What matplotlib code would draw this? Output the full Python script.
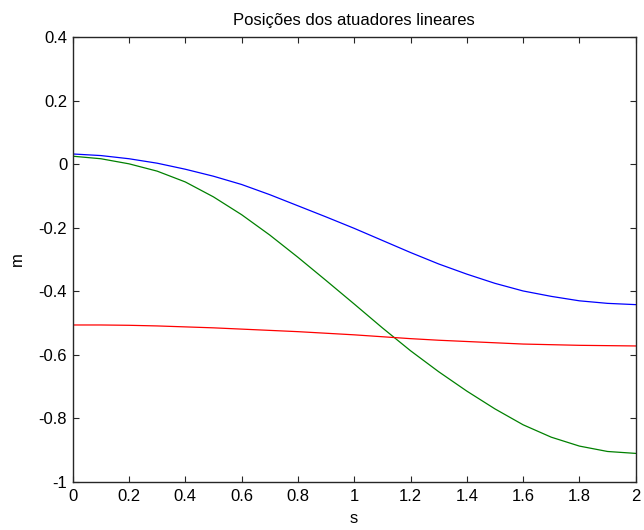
import numpy as np
import matplotlib
matplotlib.use('Agg')
import matplotlib.pyplot as plt

# time samples (s) and actuator positions (m)
t = [0.0, 0.1, 0.2, 0.3, 0.4, 0.5, 0.6, 0.7, 0.8, 0.9, 1.0,
     1.1, 1.2, 1.3, 1.4, 1.5, 1.6, 1.7, 1.8, 1.9, 2.0]

atuador1 = [0.032, 0.027, 0.017, 0.003, -0.016, -0.038, -0.064, -0.096, -0.131, -0.166, -0.202,
            -0.240, -0.278, -0.314, -0.346, -0.375, -0.399, -0.416, -0.430, -0.438, -0.442]

atuador2 = [0.025, 0.017, 0.001, -0.022, -0.056, -0.103, -0.159, -0.223, -0.293, -0.366, -0.440,
            -0.515, -0.587, -0.653, -0.714, -0.770, -0.820, -0.859, -0.887, -0.904, -0.910]

atuador3 = [-0.506, -0.506, -0.507, -0.509, -0.512, -0.515, -0.519, -0.523, -0.527, -0.532, -0.537,
            -0.543, -0.549, -0.554, -0.558, -0.562, -0.566, -0.568, -0.570, -0.571, -0.572]

xticks = [0, 0.2, 0.4, 0.6, 0.8, 1, 1.2, 1.4, 1.6, 1.8, 2]
yticks = [-1, -0.8, -0.6, -0.4, -0.2, 0, 0.2, 0.4]


def main():
    plt.rcParams['font.family'] = ['Liberation Sans', 'DejaVu Sans']
    plt.rcParams['font.size'] = 12

    fig = plt.figure(figsize=(6.44, 5.30), dpi=100)
    ax = fig.add_axes([72.7 / 644, 48 / 530, 563 / 644, 445 / 530])

    ax.plot(t, atuador1, color=(0, 0, 1), lw=0.9)
    ax.plot(t, atuador2, color=(0, 0.5, 0), lw=0.9)
    ax.plot(t, atuador3, color=(1, 0, 0), lw=0.9)

    ax.set_xlim(0, 2)
    ax.set_ylim(-1, 0.4)
    ax.set_xticks(xticks)
    ax.set_yticks(yticks)
    ax.set_xticklabels(['%g' % v for v in xticks])
    ax.set_yticklabels(['%g' % v for v in yticks])

    ax.tick_params(direction='in', top=True, right=True, length=4, width=0.8,
                   color='#262626', labelcolor='black')
    ax.tick_params(axis='x', pad=5)
    ax.tick_params(axis='y', pad=4)
    for sp in ax.spines.values():
        sp.set_color('#262626')
        sp.set_linewidth(1.0)

    ax.set_title('Posições dos atuadores lineares', fontsize=12, pad=9)
    ax.set_xlabel('s', labelpad=5)
    ax.set_ylabel('m', labelpad=10)

    fig.savefig('out.png', dpi=100, facecolor='white')


if __name__ == '__main__':
    main()
